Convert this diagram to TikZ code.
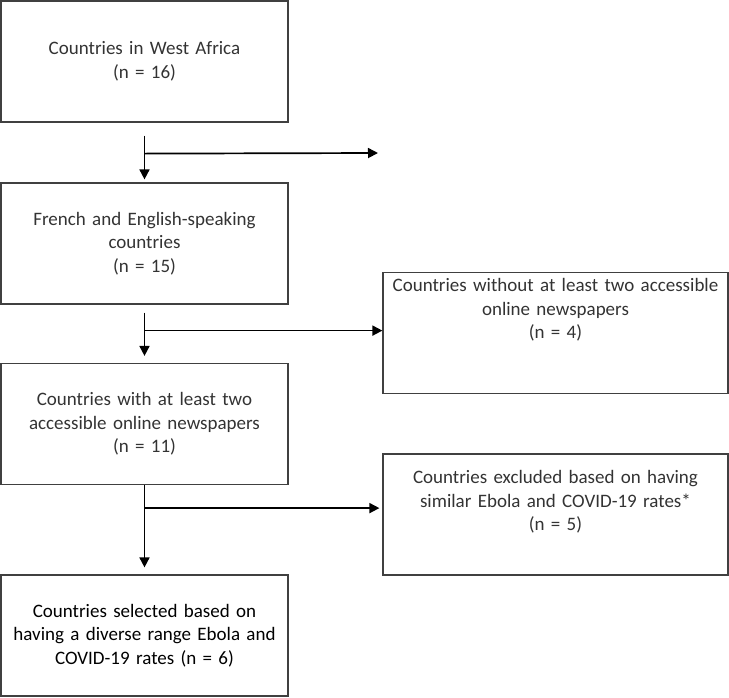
\documentclass[tikz,border=0pt]{standalone}
\usepackage{fontspec}
\setmainfont{Carlito}
\usetikzlibrary{arrows.meta}

\begin{document}
\begin{tikzpicture}[x=1pt,y=-1pt]
   \tikzstyle{box}=[rectangle,draw=black!75,line width=1.2pt,inner sep=0pt,minimum width=287pt,minimum height=121pt,text width=275pt,align=center,text=black!80,font=\fontsize{19}{23.5}\selectfont]
   \tikzstyle{exbox}=[box,minimum width=345pt]
   \tikzstyle{txt}=[inner sep=0pt,text width=330pt,align=center,text=black!80,font=\fontsize{19}{23.5}\selectfont]
   \tikzstyle{ar}=[black,line width=1.7pt,-{Triangle[length=10pt,width=10pt]}]

   \useasboundingbox (0,0) rectangle (729,697);

   % main column
   \node (west) [box] at (144.5,61.5) {Countries in West Africa\\(n = 16)};
   \node (french) [box] at (144.5,243.5) {French and English-speaking\\countries\\(n = 15)};
   \node (online) [box] at (144.5,424) {Countries with at least two\\accessible online newspapers\\(n = 11)};
   \node (selected) [box,text=black] at (144.5,635.5) {Countries selected based on\\having a diverse range Ebola and\\COVID-19 rates (n = 6)};

   % excluded
   \node (nonews) [exbox] at (555.5,333) {};
   \node (nonewstxt) [txt] at (555.5,310) {Countries without at least two accessible\\online newspapers\\(n = 4)};
   \node (similar) [exbox] at (555.5,514.5) {};
   \node (similartxt) [txt] at (555.5,502) {Countries excluded based on having\\similar Ebola and COVID-19 rates*\\(n = 5)};

   % arrows
   \coordinate (s1) at ([yshift=-13pt]west.south);
   \coordinate (j1) at ([yshift=-31pt]west.south);
   \coordinate (e1) at (378,153);
   \draw [ar] (s1) -- ([yshift=3pt]french.north);
   \draw [ar] (j1) -- (e1);

   \coordinate (s2) at ([yshift=-8pt]french.south);
   \coordinate (j2) at ([yshift=-26pt]french.south);
   \draw [ar] (s2) -- ([yshift=7pt]online.north);
   \draw [ar] (j2) -- (j2 -| nonews.west);

   \coordinate (j3) at ([yshift=-23pt]online.south);
   \draw [ar] (online.south) -- ([yshift=7pt]selected.north);
   \draw [ar] (j3) -- ([xshift=-3pt]j3 -| similar.west);
\end{tikzpicture}
\end{document}
